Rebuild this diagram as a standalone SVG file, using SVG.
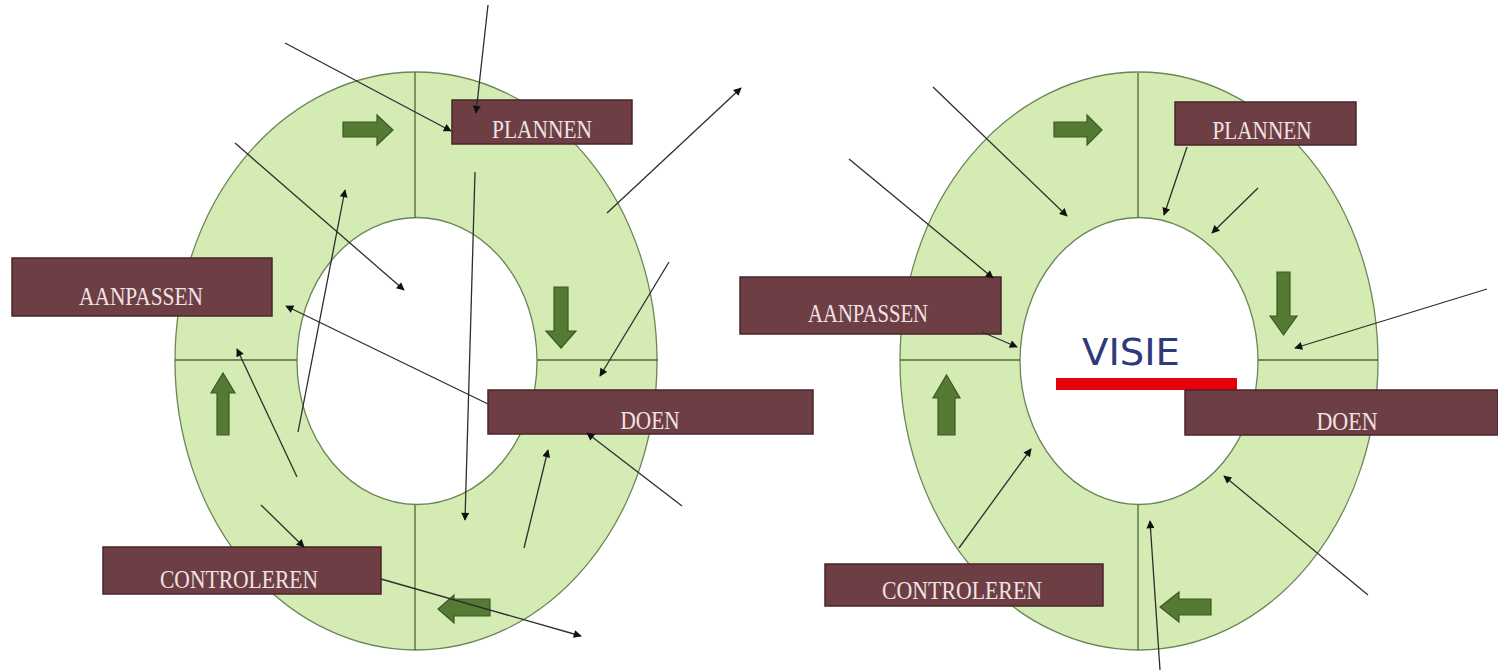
<svg xmlns="http://www.w3.org/2000/svg" width="1498" height="670" viewBox="0 0 1498 670">
<defs>
<style>
.ring{fill:#d4ebb3;stroke:#6a8656;stroke-width:1.3;fill-rule:evenodd}
.div{stroke:#4e6a3c;stroke-width:1.3;fill:none}
.blk{fill:#557a33;stroke:#3b5a22;stroke-width:1.2}
.box{fill:#6d3e44;stroke:#4a2529;stroke-width:1.5}
.lbl{font-family:"Liberation Serif","Times New Roman",serif;font-size:25px;fill:#f1e2e4;text-anchor:middle}
.con{stroke:#2e2e2e;stroke-width:1.3;fill:none;marker-end:url(#ah)}
</style>
<marker id="ah" viewBox="0 0 10 10" refX="9" refY="5" markerWidth="10" markerHeight="8" markerUnits="userSpaceOnUse" orient="auto">
<path d="M0,0 L10,5 L0,10 Z" fill="#111"/>
</marker>
</defs>
<rect width="1498" height="670" fill="#ffffff"/>

<g id="ring-left">
<path class="ring" d="M175,361 A241,289 0 1 0 657,361 A241,289 0 1 0 175,361 Z M297,361 A120,143.5 0 1 0 537,361 A120,143.5 0 1 0 297,361 Z"/>
<path class="div" d="M415,72 V218 M415,505 V650 M175,360 H297 M537,360 H658"/>
<path class="blk" d="M343,122 H377 V115 L393,130 L377,145 V137 H343 Z"/>
<path class="blk" d="M554,287 H568 V331 H576 L561,348 L546,331 H554 Z"/>
<path class="blk" d="M217,435 V393 H211 L223,373 L235,393 H229 V435 Z"/>
<path class="blk" d="M490,599 H454 V595 L438,609 L454,623 V616 H490 Z"/>
</g>

<g id="ring-right">
<path class="ring" d="M900,361 A239,289 0 1 0 1378,361 A239,289 0 1 0 900,361 Z M1020,361 A119,143.5 0 1 0 1258,361 A119,143.5 0 1 0 1020,361 Z"/>
<path class="div" d="M1138,73 V218 M1138,505 V650 M900,360 H1020 M1258,360 H1378"/>
<path class="blk" d="M1054,122 H1087 V115 L1102,130 L1087,145 V137 H1054 Z"/>
<path class="blk" d="M1277,272 H1290 V316 H1297 L1283.5,335 L1270,316 H1277 Z"/>
<path class="blk" d="M938,435 V398 H933 L946.5,375 L960,398 H955 V435 Z"/>
<path class="blk" d="M1211,599 H1179 V592 L1160,607 L1179,622 V615 H1211 Z"/>
</g>

<g id="visie">
<text x="1131" y="365" font-family="'DejaVu Sans',Verdana,sans-serif" font-size="38" fill="#2d3a7c" text-anchor="middle" textLength="98" lengthAdjust="spacingAndGlyphs">VISIE</text>
<rect x="1056" y="378" width="181" height="12" fill="#e8000e"/>
</g>

<g id="plannen-left"><rect class="box" x="452" y="100" width="180" height="44"/><text class="lbl" x="542" y="138" textLength="100" lengthAdjust="spacingAndGlyphs">PLANNEN</text></g>
<g id="aanpassen-left"><rect class="box" x="12" y="258" width="260" height="58"/><text class="lbl" x="141" y="305" textLength="124" lengthAdjust="spacingAndGlyphs">AANPASSEN</text></g>
<g id="doen-left"><rect class="box" x="488" y="390" width="325" height="44"/><text class="lbl" x="650" y="429" textLength="59" lengthAdjust="spacingAndGlyphs">DOEN</text></g>
<g id="controleren-left"><rect class="box" x="103" y="547" width="278" height="47"/><text class="lbl" x="239" y="588" textLength="158" lengthAdjust="spacingAndGlyphs">CONTROLEREN</text></g>

<g id="plannen-right"><rect class="box" x="1175" y="102" width="181" height="43"/><text class="lbl" x="1262" y="139" textLength="99" lengthAdjust="spacingAndGlyphs">PLANNEN</text></g>
<g id="aanpassen-right"><rect class="box" x="740" y="277" width="261" height="57"/><text class="lbl" x="868" y="322" textLength="120" lengthAdjust="spacingAndGlyphs">AANPASSEN</text></g>
<g id="doen-right"><rect class="box" x="1185" y="390" width="313" height="45"/><text class="lbl" x="1347" y="430" textLength="61" lengthAdjust="spacingAndGlyphs">DOEN</text></g>
<g id="controleren-right"><rect class="box" x="825" y="564" width="278" height="42"/><text class="lbl" x="962" y="599" textLength="160" lengthAdjust="spacingAndGlyphs">CONTROLEREN</text></g>

<g id="connectors">
<path class="con" d="M488,5 L476,113"/>
<path class="con" d="M285,43 L451,131"/>
<path class="con" d="M607,213 L741,88"/>
<path class="con" d="M235,143 L404,290"/>
<path class="con" d="M298,432 L345,190"/>
<path class="con" d="M475,172 L465,520"/>
<path class="con" d="M669,262 L600,376"/>
<path class="con" d="M488,404 L286,306"/>
<path class="con" d="M297,477 L237,349"/>
<path class="con" d="M261,505 L304,547"/>
<path class="con" d="M381,579 L581,636"/>
<path class="con" d="M524,548 L548,450"/>
<path class="con" d="M682,506 L587,433"/>

<path class="con" d="M933,87 L1067,216"/>
<path class="con" d="M849,159 L993,278"/>
<path class="con" d="M1187,147 L1164,215"/>
<path class="con" d="M1258,188 L1212,233"/>
<path class="con" d="M1487,289 L1295,348"/>
<path class="con" d="M982,332 L1017,347"/>
<path class="con" d="M959,548 L1031,449"/>
<path class="con" d="M1368,595 L1224,476"/>
<path class="con" d="M1160,670 L1150,521"/>
</g>
</svg>
